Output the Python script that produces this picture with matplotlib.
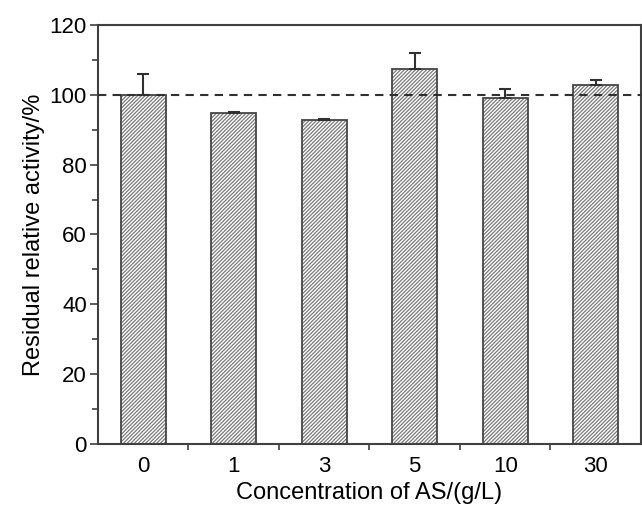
import matplotlib.pyplot as plt
import numpy as np

plt.rcParams['font.family'] = ['Liberation Sans', 'DejaVu Sans']
plt.rcParams['hatch.linewidth'] = 0.9

conc_labels = ['0', '1', '3', '5', '10', '30']
activity = [100.0, 94.8, 92.7, 107.4, 99.1, 102.7]
err_up = [5.8, 0.4, 0.4, 4.5, 2.6, 1.4]

fig = plt.figure(figsize=(6.42, 5.08), dpi=100)
ax = fig.add_axes([0.1526, 0.126, 0.8458, 0.825])

x = np.arange(len(conc_labels))
# hatch fill in light gray, outline drawn on top in darker gray
ax.bar(x, activity, width=0.5, color='white', edgecolor='#7a7a7a',
       linewidth=0, hatch='/' * 9, zorder=2)
ax.bar(x, activity, width=0.5, color='none', edgecolor='#454545',
       linewidth=1.3, zorder=2.5)
ax.errorbar(x, activity, yerr=[np.zeros(len(x)), err_up], fmt='none',
            ecolor='#303030', elinewidth=1.5, capsize=4, capthick=1.5, zorder=3)
ax.axhline(100, color='#303030', linestyle=(0, (4, 3)), linewidth=1.5, zorder=4)

ax.set_xlim(-0.5, 5.5)
ax.set_ylim(0, 120)
ax.set_xticks(x)
ax.set_xticklabels(conc_labels)
ax.set_xticks(x[:-1] + 0.5, minor=True)
ax.tick_params(axis='x', which='major', length=0, pad=9, labelsize=16)
ax.tick_params(axis='x', which='minor', length=4, width=1.2, direction='out', color='#404040')
ax.set_yticks(np.arange(0, 121, 20))
ax.set_yticks(np.arange(10, 120, 20), minor=True)
ax.tick_params(axis='y', which='major', length=6, width=1.2, labelsize=16, pad=2, color='#404040')
ax.tick_params(axis='y', which='minor', length=4, width=1.2, color='#404040')

for s in ax.spines.values():
    s.set_color('#404040')
    s.set_linewidth(1.5)

ax.set_xlabel('Concentration of AS/(g/L)', fontsize=17, labelpad=3)
ax.set_ylabel('Residual relative activity/%', fontsize=17, labelpad=3)

fig.savefig('out.png', dpi=100)
